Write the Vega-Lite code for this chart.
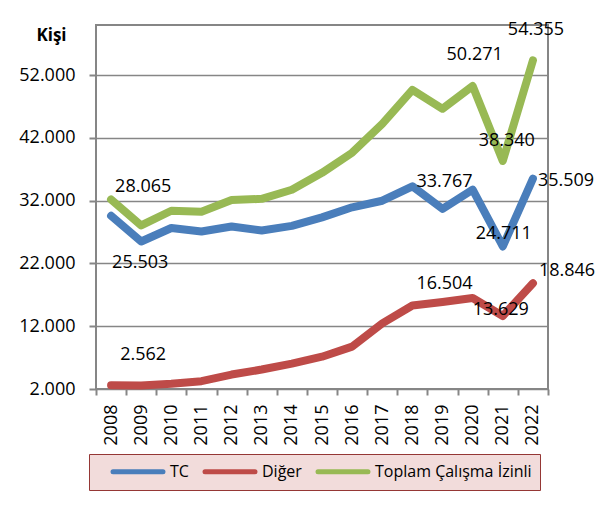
{
  "$schema": "https://vega.github.io/schema/vega-lite/v6.json",
  "width": 452,
  "height": 364,
  "autosize": {"type": "none"},
  "padding": {"left": 96, "top": 25, "right": 58, "bottom": 118},
  "background": "white",
  "config": {
    "font": "Open Sans",
    "locale": {"number": {"decimal": ",", "thousands": ".", "grouping": [3], "currency": ["", ""]}},
    "view": {"stroke": "#868686", "strokeWidth": 2},
    "axis": {"labelColor": "#000000", "labelFontSize": 18, "tickColor": "#868686", "tickWidth": 2, "gridColor": "#868686", "gridWidth": 1.5}
  },
  "data": {"values": [
    {"year": 2008, "series": "TC", "value": 29600},
    {"year": 2009, "series": "TC", "value": 25503},
    {"year": 2010, "series": "TC", "value": 27650},
    {"year": 2011, "series": "TC", "value": 27100},
    {"year": 2012, "series": "TC", "value": 27900},
    {"year": 2013, "series": "TC", "value": 27250},
    {"year": 2014, "series": "TC", "value": 28000},
    {"year": 2015, "series": "TC", "value": 29350},
    {"year": 2016, "series": "TC", "value": 30950},
    {"year": 2017, "series": "TC", "value": 32000},
    {"year": 2018, "series": "TC", "value": 34300},
    {"year": 2019, "series": "TC", "value": 30700},
    {"year": 2020, "series": "TC", "value": 33767},
    {"year": 2021, "series": "TC", "value": 24711},
    {"year": 2022, "series": "TC", "value": 35509},
    {"year": 2008, "series": "Diğer", "value": 2600},
    {"year": 2009, "series": "Diğer", "value": 2562},
    {"year": 2010, "series": "Diğer", "value": 2850},
    {"year": 2011, "series": "Diğer", "value": 3250},
    {"year": 2012, "series": "Diğer", "value": 4300},
    {"year": 2013, "series": "Diğer", "value": 5100},
    {"year": 2014, "series": "Diğer", "value": 6050},
    {"year": 2015, "series": "Diğer", "value": 7150},
    {"year": 2016, "series": "Diğer", "value": 8750},
    {"year": 2017, "series": "Diğer", "value": 12450},
    {"year": 2018, "series": "Diğer", "value": 15300},
    {"year": 2019, "series": "Diğer", "value": 15850},
    {"year": 2020, "series": "Diğer", "value": 16504},
    {"year": 2021, "series": "Diğer", "value": 13629},
    {"year": 2022, "series": "Diğer", "value": 18846},
    {"year": 2008, "series": "Toplam Çalışma İzinli", "value": 32200},
    {"year": 2009, "series": "Toplam Çalışma İzinli", "value": 28065},
    {"year": 2010, "series": "Toplam Çalışma İzinli", "value": 30400},
    {"year": 2011, "series": "Toplam Çalışma İzinli", "value": 30250},
    {"year": 2012, "series": "Toplam Çalışma İzinli", "value": 32100},
    {"year": 2013, "series": "Toplam Çalışma İzinli", "value": 32300},
    {"year": 2014, "series": "Toplam Çalışma İzinli", "value": 33750},
    {"year": 2015, "series": "Toplam Çalışma İzinli", "value": 36450},
    {"year": 2016, "series": "Toplam Çalışma İzinli", "value": 39650},
    {"year": 2017, "series": "Toplam Çalışma İzinli", "value": 44250},
    {"year": 2018, "series": "Toplam Çalışma İzinli", "value": 49650},
    {"year": 2019, "series": "Toplam Çalışma İzinli", "value": 46650},
    {"year": 2020, "series": "Toplam Çalışma İzinli", "value": 50271},
    {"year": 2021, "series": "Toplam Çalışma İzinli", "value": 38340},
    {"year": 2022, "series": "Toplam Çalışma İzinli", "value": 54355}
  ]},
  "encoding": {
    "x": {
      "field": "year", "type": "ordinal", "bandPosition": 0.5,
      "scale": {"type": "band", "paddingInner": 0, "paddingOuter": 0},
      "axis": {"title": null, "tickBand": "extent", "labelAngle": -90, "labelAlign": "right", "labelBaseline": "middle", "labelPadding": 9, "tickSize": 6, "domain": false, "grid": false}
    },
    "y": {
      "field": "value", "type": "quantitative",
      "scale": {"domain": [2000, 60000], "nice": false, "zero": false},
      "axis": {"title": "Kişi", "titleAngle": 0, "titleX": -45, "titleY": 10, "titleAlign": "center", "titleBaseline": "middle", "titleFontSize": 17, "titleFontWeight": "bold", "titleColor": "#000000",
        "values": [2000, 12000, 22000, 32000, 42000, 52000], "format": ",d", "grid": true, "tickSize": 7, "labelPadding": 14, "domain": false}
    }
  },
  "layer": [
    {
      "mark": {"type": "line", "strokeWidth": 8, "strokeCap": "round", "strokeJoin": "round"},
      "encoding": {
        "color": {"field": "series", "type": "nominal",
          "scale": {"domain": ["TC", "Diğer", "Toplam Çalışma İzinli"], "range": ["#4a7ebb", "#be4b48", "#98b954"]},
          "legend": {"title": null, "orient": "none", "legendX": -7, "legendY": 429, "direction": "horizontal",
            "fillColor": "#f2dcdb", "strokeColor": "#953735", "padding": 8,
            "symbolType": "M0.93,0H8.07", "symbolSize": 196, "symbolStrokeWidth": 5,
            "labelFontSize": 16, "labelColor": "#000000", "columnPadding": -1, "labelOffset": 54,
            "encode": {"symbols": {"update": {"strokeCap": {"value": "round"}}}}}}
      }
    },
    {"transform": [{"filter": "datum.year == 2009 && datum.series == 'Toplam Çalışma İzinli'"}],
     "mark": {"type": "text", "fontSize": 18, "baseline": "middle", "dx": 2, "dy": -38},
     "encoding": {"text": {"field": "value", "type": "quantitative", "format": ",d"}}},
    {"transform": [{"filter": "datum.year == 2009 && datum.series == 'TC'"}],
     "mark": {"type": "text", "fontSize": 18, "baseline": "middle", "dx": -1, "dy": 22},
     "encoding": {"text": {"field": "value", "type": "quantitative", "format": ",d"}}},
    {"transform": [{"filter": "datum.year == 2009 && datum.series == 'Diğer'"}],
     "mark": {"type": "text", "fontSize": 18, "baseline": "middle", "dx": 2, "dy": -30},
     "encoding": {"text": {"field": "value", "type": "quantitative", "format": ",d"}}},
    {"transform": [{"filter": "datum.year == 2020 && datum.series == 'Toplam Çalışma İzinli'"}],
     "mark": {"type": "text", "fontSize": 18, "baseline": "middle", "dx": 2, "dy": -31},
     "encoding": {"text": {"field": "value", "type": "quantitative", "format": ",d"}}},
    {"transform": [{"filter": "datum.year == 2020 && datum.series == 'TC'"}],
     "mark": {"type": "text", "fontSize": 18, "baseline": "middle", "align": "right", "dx": 0, "dy": -8},
     "encoding": {"text": {"field": "value", "type": "quantitative", "format": ",d"}}},
    {"transform": [{"filter": "datum.year == 2020 && datum.series == 'Diğer'"}],
     "mark": {"type": "text", "fontSize": 18, "baseline": "middle", "align": "right", "dx": 0, "dy": -14},
     "encoding": {"text": {"field": "value", "type": "quantitative", "format": ",d"}}},
    {"transform": [{"filter": "datum.year == 2021 && datum.series == 'Toplam Çalışma İzinli'"}],
     "mark": {"type": "text", "fontSize": 18, "baseline": "middle", "dx": 4, "dy": -20},
     "encoding": {"text": {"field": "value", "type": "quantitative", "format": ",d"}}},
    {"transform": [{"filter": "datum.year == 2021 && datum.series == 'TC'"}],
     "mark": {"type": "text", "fontSize": 18, "baseline": "middle", "dx": 1, "dy": -12},
     "encoding": {"text": {"field": "value", "type": "quantitative", "format": ",d"}}},
    {"transform": [{"filter": "datum.year == 2021 && datum.series == 'Diğer'"}],
     "mark": {"type": "text", "fontSize": 18, "baseline": "middle", "dx": -2, "dy": -6},
     "encoding": {"text": {"field": "value", "type": "quantitative", "format": ",d"}}},
    {"transform": [{"filter": "datum.year == 2022 && datum.series == 'Toplam Çalışma İzinli'"}],
     "mark": {"type": "text", "fontSize": 18, "baseline": "middle", "dx": 3, "dy": -30},
     "encoding": {"text": {"field": "value", "type": "quantitative", "format": ",d"}}},
    {"transform": [{"filter": "datum.year == 2022 && datum.series == 'TC'"}],
     "mark": {"type": "text", "fontSize": 18, "baseline": "middle", "align": "left", "dx": 5, "dy": 2},
     "encoding": {"text": {"field": "value", "type": "quantitative", "format": ",d"}}},
    {"transform": [{"filter": "datum.year == 2022 && datum.series == 'Diğer'"}],
     "mark": {"type": "text", "fontSize": 18, "baseline": "middle", "align": "left", "dx": 6, "dy": -12},
     "encoding": {"text": {"field": "value", "type": "quantitative", "format": ",d"}}}
  ]
}
